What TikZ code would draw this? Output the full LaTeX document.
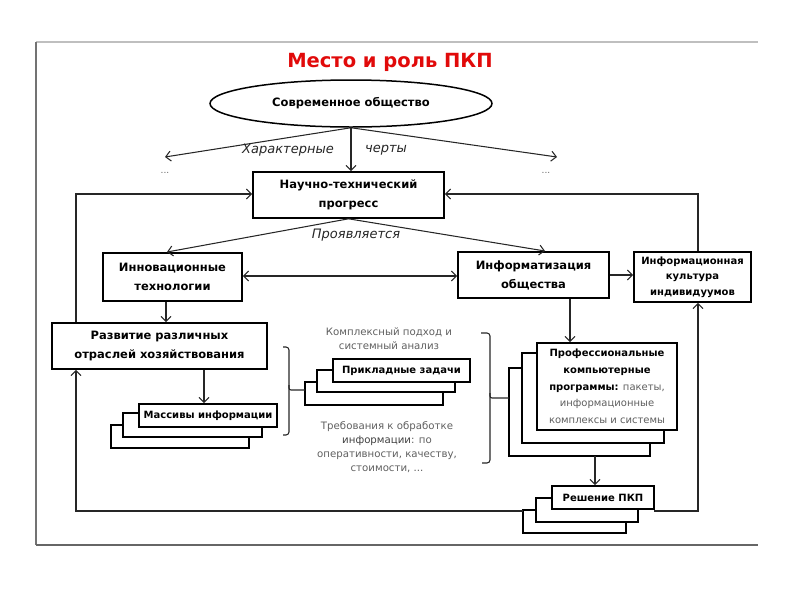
\documentclass[tikz,border=0pt]{standalone}
\usepackage{fontspec}
\setmainfont{DejaVu Sans}
\usetikzlibrary{arrows.meta,shapes.geometric}
\definecolor{titlered}{RGB}{225,10,10}
\definecolor{txtgrey}{RGB}{95,95,95}
\begin{document}
\begin{tikzpicture}[x=1pt,y=-1pt,
  box/.style={draw, line width=1.6pt, fill=white, align=center, inner sep=0pt,
    font=\bfseries\fontsize{11.5}{19}\selectfont},
  smallbox/.style={box, font=\bfseries\fontsize{10}{15.5}\selectfont},
  sbox/.style={draw, line width=1.6pt, fill=white},
  conn/.style={draw=black!85, line width=1.05pt},
  arr/.style={conn, -{Straight Barb[length=5pt,width=10pt]}},
  darr/.style={conn, {Straight Barb[length=5pt,width=10pt]}-{Straight Barb[length=5pt,width=10pt]}},
  lab/.style={font=\itshape\fontsize{13}{15}\selectfont, text=black!85, inner sep=0pt},
  greytxt/.style={text=txtgrey, align=center, inner sep=0pt, font=\fontsize{10.2}{14.2}\selectfont},
  framel/.style={line width=1.6pt}
]
\useasboundingbox (0,0) rectangle (800,600);
% frame
\draw[framel, draw=black!25] (36,42) -- (758,42);
\draw[framel, draw=black!55, line width=2.4pt] (36,42) -- (36,545);
\draw[draw=black!60, line width=1.3pt] (36,545) -- (758,545);

% title
\node[text=titlered, font=\bfseries\fontsize{19.5}{22}\selectfont] (title) at (390,62) {Место и роль ПКП};

% ellipse
\node[draw, ellipse, line width=1.5pt, minimum width=282pt, minimum height=47pt, inner sep=0pt,
  font=\bfseries\fontsize{11.5}{14}\selectfont] (soc) at (351,103.5) {Современное общество};

% main boxes
\node[box, minimum width=191pt, minimum height=46pt] (ntp) at (348.5,195) {Научно-технический\\прогресс};
\node[box, minimum width=139pt, minimum height=48pt] (innov) at (172.5,277) {Инновационные\\технологии};
\node[box, minimum width=151pt, minimum height=46pt] (inform) at (533.5,275) {Информатизация\\общества};
\node[smallbox, minimum width=117pt, minimum height=50pt] (cult) at (692.5,277) {Информационная\\культура\\индивидуумов};
\node[box, minimum width=215pt, minimum height=46pt] (razv) at (159.5,346) {Развитие различных\\отраслей хозяйствования};

% stacks: massivy
\draw[sbox] (111,425) rectangle (249,448);
\draw[sbox] (123,413) rectangle (262,437);
\node[smallbox, minimum width=138pt, minimum height=23pt] (mass) at (208,415.5) {Массивы информации};

% stacks: prikladnye
\draw[sbox] (305,382) rectangle (443,405);
\draw[sbox] (317,370) rectangle (455,392);
\node[smallbox, minimum width=137pt, minimum height=23pt] (prikl) at (401.5,370.5) {Прикладные задачи};
\coordinate (prikl3) at (305,390);

% stacks: professional
\draw[sbox] (509,368) rectangle (650,456);
\draw[sbox] (522,353) rectangle (664,443);
\node[box, font=\fontsize{10}{16.7}\selectfont, minimum width=140pt, minimum height=87pt] (prof) at (607,386.5)
  {\textbf{Профессиональные}\\\textbf{компьютерные}\\\textbf{программы:} \textcolor{txtgrey}{пакеты,}\\\textcolor{txtgrey}{информационные}\\\textcolor{txtgrey}{комплексы и системы}};
\coordinate (prof3) at (509,398);
\coordinate (prof3b) at (595,456);

% stacks: reshenie
\draw[sbox] (523,510) rectangle (626,533);
\draw[sbox] (536,498) rectangle (638,522);
\node[smallbox, minimum width=102pt, minimum height=23pt] (resh) at (603,497.5) {Решение ПКП};
\coordinate (resh3) at (523,511);
\coordinate (reshR) at (654,511);

% texts
\node[lab] (char) at (288,150) {Характерные};
\node[lab] (cherty) at (386,150) {черты};
\node[lab] (proyav) at (356,235) {Проявляется};
\node[text=black!60, font=\fontsize{9}{10}\selectfont] (dotsL) at (165,173) {...};
\node[text=black!60, font=\fontsize{9}{10}\selectfont] (dotsR) at (546,173) {...};
\node[greytxt] (kompl) at (389,339) {Комплексный подход и\\системный анализ};
\node[greytxt] (treb) at (387,447) {Требования к обработке\\\textcolor{black!75}{информации}: по\\оперативности, качеству,\\стоимости, ...};

% helper coordinates
\coordinate (eL) at (165,157);
\coordinate (eR) at (557,157);
\coordinate (xI) at (166,0);
\coordinate (xR) at (204,0);
\coordinate (xF) at (570,0);
\coordinate (xL) at (76,0);
\coordinate (xRt) at (698,0);
\coordinate (yN) at (0,194);
\coordinate (yB) at (0,511);
\coordinate (pI) at (167,252);
\coordinate (pF) at (545,251);

% connectors
\draw[arr] (soc.south) -- (ntp.north -| soc.south);
\draw[arr] (soc.south) -- (eL);
\draw[arr] (soc.south) -- (eR);
\draw[arr] (ntp.south) -- (pI);
\draw[arr] (ntp.south) -- (pF);
\draw[darr] (innov.east |- 0,276) -- (inform.west |- 0,276);
\draw[arr] (inform.east) -- (cult.west |- inform.east);
\draw[arr] (innov.south -| xI) -- (razv.north -| xI);
\draw[arr] (razv.south -| xR) -- (mass.north -| xR);
\draw[arr] (inform.south -| xF) -- (prof.north -| xF);
\draw[arr] (prof3b) -- (resh.north -| prof3b);
% feedback loops
\draw[arr] (razv.north -| xL) -- (xL |- yN) -- (ntp.west |- yN);
\draw[arr] (resh3) -- (xL |- yB) -- (razv.south -| xL);
\draw[arr] (reshR) -- (xRt |- yB) -- (cult.south -| xRt);
\draw[arr] (cult.north -| xRt) -- (xRt |- yN) -- (ntp.east |- yN);

% braces
\draw[conn, rounded corners=3pt] (283,347) -- (289,347) -- (289,435) -- (283,435);
\draw[conn, rounded corners=2pt] (289,385) -- (289,390) -- (prikl3);
\draw[conn, rounded corners=3pt] (481,333) -- (490,333) -- (490,463) -- (482,463);
\draw[conn, rounded corners=2pt] (490,393) -- (490,398) -- (prof3);
\end{tikzpicture}
\end{document}
